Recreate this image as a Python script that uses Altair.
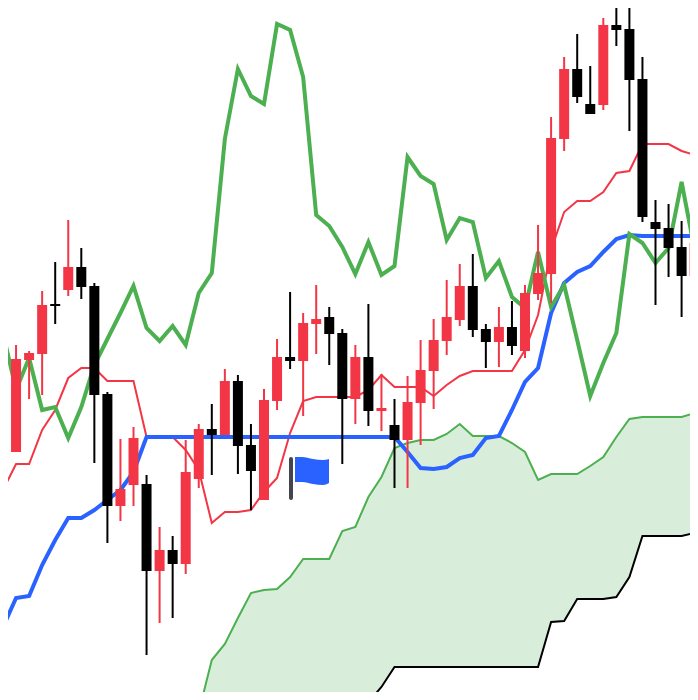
import altair as alt
import pandas as pd

# candle values (vertical values follow the picture: larger = lower on the chart)
body_top = [451,359,353,305,304,267,267,286,394,489,438,484,550,550,472,429,429,381,381,445,400,357,357,323,319,317,333,357,357,408,425,402,370,340,317,286,286,329,327,327,293,273,138,69,69,104,25,25,29,79,222,228,247,243]
body_bot = [487,452,360,354,306,290,287,395,506,506,485,571,571,564,564,479,435,435,446,471,500,401,361,361,324,334,399,399,411,411,440,440,403,371,341,320,330,342,342,346,351,294,274,139,97,114,105,30,80,217,229,248,276,276]
wick_top = [448,345,351,291,262,220,248,283,392,439,427,475,527,536,440,424,404,369,375,424,389,339,292,313,285,307,329,345,304,374,399,376,340,319,280,264,254,324,307,301,285,225,117,57,34,66,18,-10,-10,57,200,204,221,239]
wick_bot = [510,452,399,395,324,296,299,463,543,521,506,655,623,618,574,488,475,435,474,510,500,410,369,416,354,365,464,424,426,431,488,488,445,409,355,326,337,368,367,355,358,300,303,151,103,114,110,46,131,222,305,277,317,327]
candle_dir = ["u","u","u","u","d","u","d","d","d","u","u","d","u","d","u","u","d","u","d","d","u","u","d","u","u","d","d","u","d","u","d","u","u","u","u","u","d","d","u","d","u","u","u","u","d","d","u","d","d","d","d","d","d","u"]

# lines, one value per bar position
tenkan = [490,464,464,430,410,378,368,368,381,381,381,437,437,437,450,470,523,512,512,510,492,478,433,401,397,397,397,397,390,375,387,387,387,396,385,376,371,371,371,371,350,315,250,212,201,201,192,173,171,144,144,144,151,155,157]
kijun = [627,598,596,565,540,518,518,510,500,490,472,437,437,437,437,437,437,437,437,437,437,437,437,437,437,437,437,437,437,437,437,452,468,469,467,458,455,438,436,410,382,368,313,283,272,266,252,239,235,236,236,236,236,236,236]
chikou = [333,390,358,410,407,438,407,365,339,313,286,328,341,326,345,293,273,139,69,96,104,24,30,77,215,226,247,274,242,275,266,157,176,184,240,218,222,278,261,297,308,252,307,285,340,396,363,333,234,243,263,248,182,250,262]

# cloud, from bar position 15 on
cloud_start = 15
span_a = [712,660,644,618,593,590,589,577,559,559,559,531,527,497,477,448,443,440,440,434,424,436,436,436,443,452,480,474,474,474,466,457,437,419,417,417,417,417,413,411]
span_b = [740,740,740,740,740,740,740,740,740,740,740,740,716,702,687,667,667,667,667,667,667,667,667,667,667,667,667,622,621,599,599,599,597,577,536,536,536,536,533,531]

# flag drawing
pole_x = [291]
pole_top = [459]
pole_bot = [498]
flag_x = [295, 302, 313, 323, 329]
flag_top = [457, 457, 459, 460, 459]
flag_bot = [482, 482, 484, 485, 483]

RED = "#F23645"
BLACK = "#000000"
BLUE = "#2962FF"
GREEN = "#4CAF50"

def pos(n, start=0):
    return [3 + 13.05 * (start + k) for k in range(n)]

candles = pd.DataFrame({
    "i": pos(len(body_top)),
    "bt": body_top, "bb": body_bot, "wt": wick_top, "wb": wick_bot, "dir": candle_dir,
})
lines = pd.DataFrame({"i": pos(len(tenkan)), "tenkan": tenkan, "kijun": kijun, "chikou": chikou})
cloud = pd.DataFrame({"i": pos(len(span_a), cloud_start), "a": span_a, "b": span_b})
pole = pd.DataFrame({"i": pole_x, "t": pole_top, "b": pole_bot})
flag = pd.DataFrame({"i": flag_x, "t": flag_top, "b": flag_bot})

x = alt.X("i:Q", axis=None, scale=alt.Scale(domain=[8, 690], nice=False, zero=False, padding=0))
def yf(f):
    return alt.Y(f, axis=None, scale=alt.Scale(domain=[692, 8], nice=False, zero=False, padding=0))
col = alt.Color("dir:N", legend=None, scale=alt.Scale(domain=["u", "d"], range=[RED, BLACK]))

area = alt.Chart(cloud).mark_area(color=GREEN, opacity=0.21, clip=True).encode(x=x, y=yf("a:Q"), y2="b:Q")
line_a = alt.Chart(cloud).mark_line(color=GREEN, strokeWidth=2, clip=True).encode(x=x, y=yf("a:Q"))
line_b = alt.Chart(cloud).mark_line(color=BLACK, strokeWidth=2, clip=True).encode(x=x, y=yf("b:Q"))
red = alt.Chart(lines).mark_line(color=RED, strokeWidth=2, clip=True).encode(x=x, y=yf("tenkan:Q"))
blue = alt.Chart(lines).mark_line(color=BLUE, strokeWidth=4, clip=True).encode(x=x, y=yf("kijun:Q"))
green = alt.Chart(lines).mark_line(color=GREEN, strokeWidth=4, clip=True).encode(x=x, y=yf("chikou:Q"))
wicks = alt.Chart(candles).mark_rule(strokeWidth=2, clip=True).encode(x=x, y=yf("wt:Q"), y2="wb:Q", color=col)
bodies = alt.Chart(candles).mark_bar(size=10, clip=True).encode(x=x, y=yf("bt:Q"), y2="bb:Q", color=col)
pole_m = alt.Chart(pole).mark_rule(strokeWidth=4, strokeCap="round", color="#454550").encode(x=x, y=yf("t:Q"), y2="b:Q")
flag_m = alt.Chart(flag).mark_area(color=BLUE, interpolate="monotone").encode(x=x, y=yf("t:Q"), y2="b:Q")

chart = (area + line_b + line_a + red + blue + green + wicks + bodies + pole_m + flag_m).properties(
    width=682, height=684, padding=0, autosize=alt.AutoSizeParams(type="none")
).configure_view(stroke=None)

chart.save("out.html", embed_options={"renderer": "svg", "actions": False})
